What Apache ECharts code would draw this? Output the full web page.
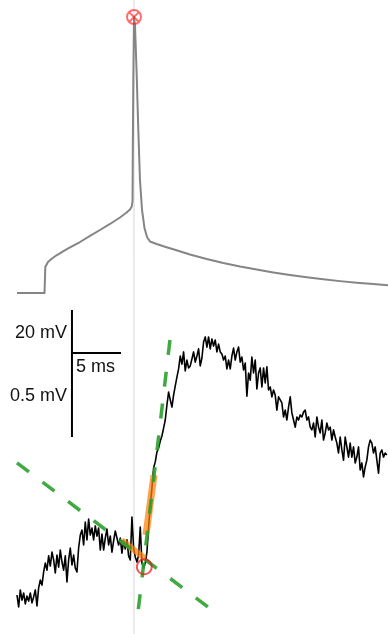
<!DOCTYPE html>
<html>
<head>
<meta charset="utf-8">
<script src="https://cdn.jsdelivr.net/npm/echarts@6/dist/echarts.min.js"></script>
<style>
  html, body { margin: 0; padding: 0; background: #fff; }
  #chart { width: 388px; height: 634px; }
</style>
</head>
<body>
<div id="chart"></div>
<script>
// Somatic action potential (ms, mV)
const apTime = [-11.94, -9.13, -9.05, -8.78, -8.37, -7.86, -7.24, -6.53, -5.51, -4.49, -3.47, -2.45, -1.43, -0.82, -0.41,
  -0.23, -0.15, -0.12, -0.07, 0,
  0.10, 0.26, 0.44, 0.61, 0.82, 1.07, 1.33, 1.63,
  2.32, 3.16, 4.01, 5.71, 7.42, 9.11, 10.82, 12.52, 14.21, 15.92, 17.62, 19.32, 21.02, 22.72, 24.42, 25.92];
const apVoltage = [-70.0, -70.0, -65.91, -65.12, -64.57, -64.02, -63.46, -62.83, -61.97, -61.02, -60.08, -59.13, -58.11, -57.40, -56.85,
  -56.38, -55.51, -47.48, -36.46, -26.54,
  -27.80, -34.88, -44.33, -52.20, -56.93, -59.76, -61.18, -61.89,
  -62.28, -62.72, -63.12, -63.94, -64.65, -65.28, -65.83, -66.31, -66.76, -67.17, -67.53, -67.84, -68.13, -68.38, -68.60, -68.77];

// Postsynaptic response (mV relative to baseline), uniformly sampled
const epspStart = -11.94;
const epspStep = 0.17;
const epspValues = [
  0.000, -0.047, 0.020, -0.020, 0.008, -0.035, -0.004, -0.024, 0.008, -0.031,
  -0.008, 0.020, -0.043, 0.028, 0.059, 0.039, 0.091, 0.126, 0.098, 0.154,
  0.114, 0.169, 0.138, 0.087, 0.157, 0.110, 0.177, 0.130, 0.098, 0.154,
  0.051, 0.138, 0.185, 0.118, 0.157, 0.106, 0.091, 0.185, 0.236, 0.256,
  0.197, 0.287, 0.217, 0.299, 0.236, 0.264, 0.217, 0.272, 0.232, 0.264,
  0.177, 0.240, 0.177, 0.224, 0.260, 0.197, 0.232, 0.169, 0.213, 0.252,
  0.256, 0.197, 0.224, 0.165, 0.213, 0.181, 0.217, 0.154, 0.138, 0.307,
  0.185, 0.150, 0.130, 0.157, 0.268, 0.126, 0.106, 0.126, 0.169, 0.268,
  0.354, 0.421, 0.500, 0.524, 0.563, 0.579, 0.606, 0.626, 0.657, 0.689,
  0.748, 0.799, 0.768, 0.740, 0.787, 0.823, 0.858, 0.890, 0.941, 0.909,
  0.957, 0.882, 0.925, 0.894, 0.902, 0.929, 0.957, 0.917, 0.941, 0.969,
  0.902, 0.933, 0.996, 1.016, 0.976, 1.016, 0.969, 1.008, 0.980, 1.004,
  0.957, 0.988, 0.957, 0.949, 0.925, 0.941, 0.890, 0.925, 0.890, 0.941,
  0.972, 0.925, 0.957, 0.976, 0.917, 0.937, 0.886, 0.913, 0.783, 0.874,
  0.846, 0.937, 0.874, 0.925, 0.811, 0.874, 0.894, 0.819, 0.894, 0.835,
  0.898, 0.807, 0.819, 0.780, 0.807, 0.787, 0.728, 0.780, 0.768, 0.756,
  0.701, 0.728, 0.689, 0.740, 0.780, 0.717, 0.689, 0.661, 0.701, 0.689,
  0.709, 0.701, 0.720, 0.728, 0.689, 0.701, 0.661, 0.650, 0.677, 0.622,
  0.701, 0.661, 0.638, 0.689, 0.610, 0.638, 0.677, 0.650, 0.661, 0.610,
  0.650, 0.622, 0.598, 0.559, 0.622, 0.571, 0.531, 0.622, 0.583, 0.543,
  0.598, 0.543, 0.583, 0.520, 0.543, 0.583, 0.492, 0.520, 0.465, 0.504,
  0.531, 0.583, 0.610, 0.598, 0.559, 0.583, 0.583, 0.480, 0.559, 0.571,
  0.543, 0.559, 0.551
];

// Linear fits to the pre-onset baseline and the rising phase
const baselineFitTime = [-11.94, 7.55];
const baselineFitMv = [0.520, -0.047];
const riseFitTime = [3.67, 0.41];
const riseFitMv = [1.004, -0.067];
// Windows used for the fits
const baselineWindowTime = [-1.26, 1.12];
const baselineWindowMv = [0.216, 0.144];
const riseWindowTime = [1.22, 2.04];
const riseWindowMv = [0.236, 0.472];
// Detected onset and spike peak
const onsetPoint = [1.05, 0.111];
const spikePeak = [0, -26.54];

// Scale bar: 5 ms horizontal; 20 mV (AP) / 0.5 mV (EPSP) vertical
const scaleTime = [-6.33, -1.33];
const scaleApTop = -72.68;
const scaleApBottom = -92.68;
const scaleApJoint = -79.45;

const zip = (xs, ys) => xs.map((x, i) => [x, ys[i]]);

const chart = echarts.init(document.getElementById('chart'), null, { renderer: 'canvas' });

const hiddenAxis = { show: false, axisLine: { show: false }, splitLine: { show: false }, axisTick: { show: false }, axisLabel: { show: false } };

const option = {
  animation: false,
  backgroundColor: '#ffffff',
  grid: { left: 0, right: 0, top: 0, bottom: 0 },
  xAxis: Object.assign({ type: 'value', min: -13.673, max: 25.918 }, hiddenAxis),
  yAxis: [
    Object.assign({ type: 'value', min: -123.70, max: -23.86 }, hiddenAxis),
    Object.assign({ type: 'value', min: -0.1535, max: 2.3425 }, hiddenAxis)
  ],
  series: [
    {
      // spike time reference
      type: 'line', yAxisIndex: 0, showSymbol: false, silent: true, z: 1,
      data: [[0, -23.86], [0, -123.70]],
      lineStyle: { color: '#d8d8d8', width: 1 }
    },
    {
      type: 'line', yAxisIndex: 0, showSymbol: false, z: 2,
      data: zip(apTime, apVoltage),
      lineStyle: { color: '#858585', width: 2, join: 'round' }
    },
    {
      type: 'line', yAxisIndex: 1, showSymbol: false, z: 3,
      data: epspValues.map((v, i) => [epspStart + i * epspStep, v]),
      lineStyle: { color: '#000000', width: 1.6, join: 'round' }
    },
    {
      type: 'line', yAxisIndex: 1, showSymbol: false, z: 4,
      data: zip(baselineWindowTime, baselineWindowMv),
      lineStyle: { color: 'rgba(255,127,14,0.72)', width: 6 }
    },
    {
      type: 'line', yAxisIndex: 1, showSymbol: false, z: 4,
      data: zip(riseWindowTime, riseWindowMv),
      lineStyle: { color: 'rgba(255,127,14,0.72)', width: 7 }
    },
    {
      type: 'line', yAxisIndex: 1, showSymbol: false, z: 5,
      data: zip(baselineFitTime, baselineFitMv),
      lineStyle: { color: 'rgba(44,160,44,0.9)', width: 3.5, type: [15, 17] }
    },
    {
      type: 'line', yAxisIndex: 1, showSymbol: false, z: 5,
      data: zip(riseFitTime, riseFitMv),
      lineStyle: { color: 'rgba(44,160,44,0.9)', width: 3.5, type: [15, 17] }
    },
    {
      type: 'scatter', yAxisIndex: 1, z: 6,
      data: [onsetPoint],
      symbol: 'circle', symbolSize: 15,
      itemStyle: { color: 'transparent', borderColor: 'rgba(235,20,20,0.9)', borderWidth: 2 }
    },
    {
      type: 'scatter', yAxisIndex: 0, z: 6,
      data: [spikePeak],
      symbol: 'path://M0,-10 A10,10 0 1,1 0,10 A10,10 0 1,1 0,-10 Z M-7,-7 L7,7 M7,-7 L-7,7',
      symbolSize: 14,
      itemStyle: { color: 'transparent', borderColor: 'rgba(255,30,30,0.8)', borderWidth: 2 }
    },
    {
      // scale bar, vertical
      type: 'line', yAxisIndex: 0, showSymbol: false, z: 7,
      data: [[scaleTime[0], scaleApTop], [scaleTime[0], scaleApBottom]],
      lineStyle: { color: '#000', width: 2 }
    },
    {
      // scale bar, horizontal
      type: 'line', yAxisIndex: 0, showSymbol: false, z: 7,
      data: [[scaleTime[0], scaleApJoint], [scaleTime[1], scaleApJoint]],
      lineStyle: { color: '#000', width: 2 }
    }
  ]
};

chart.setOption(option);

// Scale bar captions placed next to the bars
const barJoint = chart.convertToPixel({ xAxisIndex: 0, yAxisIndex: 0 }, [scaleTime[0], scaleApJoint]);
const barTop = chart.convertToPixel({ xAxisIndex: 0, yAxisIndex: 0 }, [scaleTime[0], scaleApTop]);
const barBottom = chart.convertToPixel({ xAxisIndex: 0, yAxisIndex: 0 }, [scaleTime[0], scaleApBottom]);
const labelFont = '18px "Liberation Sans", Arial, sans-serif';
chart.setOption({
  graphic: [
    { type: 'text', x: barJoint[0] - 5, y: (barTop[1] + barJoint[1]) / 2 + 2,
      style: { text: '20 mV', font: labelFont, fill: '#111', align: 'right', verticalAlign: 'middle' } },
    { type: 'text', x: barJoint[0] + 4, y: barJoint[1] + 14,
      style: { text: '5 ms', font: labelFont, fill: '#111', align: 'left', verticalAlign: 'middle' } },
    { type: 'text', x: barJoint[0] - 5, y: (barJoint[1] + barBottom[1]) / 2 + 1,
      style: { text: '0.5 mV', font: labelFont, fill: '#111', align: 'right', verticalAlign: 'middle' } }
  ]
});
</script>
</body>
</html>
